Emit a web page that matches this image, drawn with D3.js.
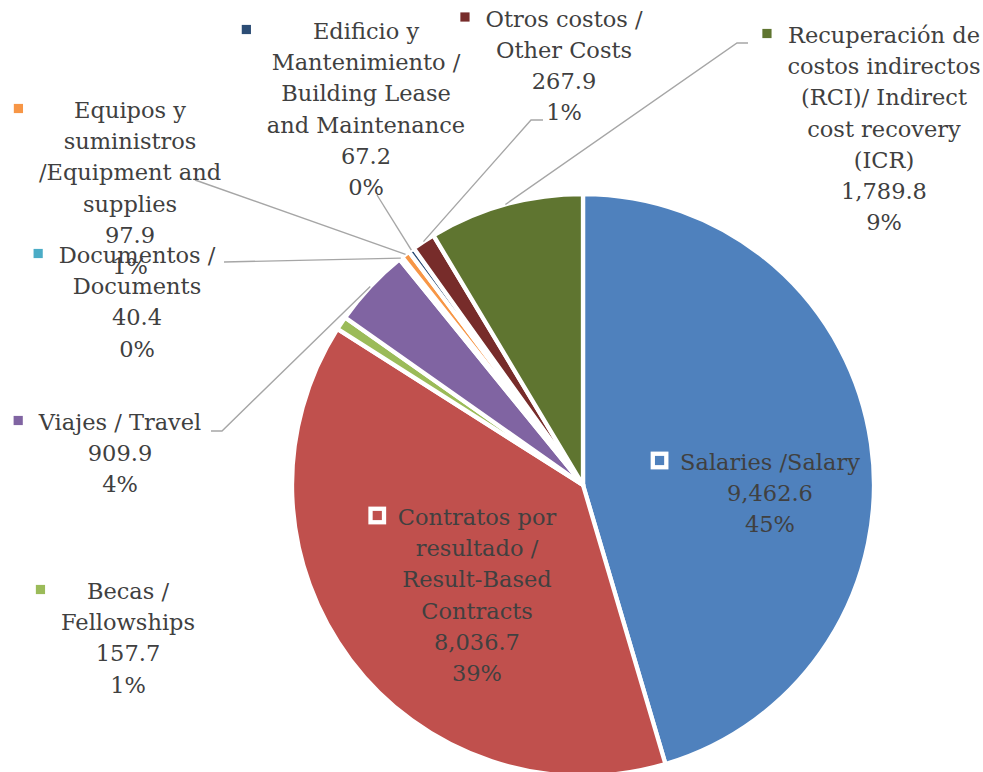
<!DOCTYPE html>
<html>
<head>
<meta charset="utf-8">
<script src="https://cdn.jsdelivr.net/npm/d3@7"></script>
<style>
body { margin: 0; background: #fff; }
text { font-family: "DejaVu Serif", serif; font-size: 22.5px; fill: #404040; }
</style>
</head>
<body>
<script>
// category labels, already wrapped the way the chart shows them
var categories = [
    ["Salaries /Salary"],
    ["Contratos por", "resultado /", "Result-Based", "Contracts"],
    ["Becas /", "Fellowships"],
    ["Viajes / Travel"],
    ["Documentos /", "Documents"],
    ["Equipos y", "suministros", "/Equipment and", "supplies"],
    ["Edificio y", "Mantenimiento /", "Building Lease", "and Maintenance"],
    ["Otros costos /", "Other Costs"],
    ["Recuperación de", "costos indirectos", "(RCI)/ Indirect", "cost recovery", "(ICR)"]
];
var values = [9462.6, 8036.7, 157.7, 909.9, 40.4, 97.9, 67.2, 267.9, 1789.8];
var colors = ["#4F81BD", "#C0504D", "#9BBB59", "#8064A2", "#4BACC6", "#F79646", "#2C4D75", "#772C2A", "#5F7530"];

var width = 983;
var height = 772;
var cx = 583, cy = 485, radius = 291;
var lineGap = 31.2;

// where each label sits: centre x of block, baseline of first line, leader start points
var labelLayout = [
    {x: 770, y: 470, leader: null},
    {x: 477, y: 525, leader: null},
    {x: 128, y: 599, leader: null},
    {x: 120, y: 430, leader: [[211, 431], [222, 431]]},
    {x: 137, y: 263, leader: [[224, 262]]},
    {x: 130, y: 118, leader: [[195, 180]]},
    {x: 366, y: 39, leader: [[377, 195]]},
    {x: 564, y: 26.5, leader: [[543, 120], [531, 120]]},
    {x: 884, y: 43, leader: [[748, 43], [737, 43]]}
];

// Excel style: whole percents that add to 100 (largest remainder)
function roundPercents(vals) {
    var total = d3.sum(vals);
    var raw = vals.map(function (v) { return v / total * 100; });
    var fl = raw.map(Math.floor);
    var left = 100 - d3.sum(fl);
    var order = d3.range(vals.length).sort(function (a, b) {
        return (raw[b] - fl[b]) - (raw[a] - fl[a]);
    });
    order.slice(0, left).forEach(function (i) { fl[i]++; });
    return fl;
}
var percents = roundPercents(values);
var fmt = d3.format(",.1f");

var svg = d3.select("body").append("svg")
    .attr("width", width)
    .attr("height", height);

var pie = d3.pie().sort(null).value(function (d) { return d; });
var arcs = pie(values);

var arc = d3.arc().innerRadius(0).outerRadius(radius);
var rim = d3.arc().innerRadius(radius).outerRadius(radius);

var pieGroup = svg.append("g")
    .attr("transform", `translate(${cx} ${cy})`);

pieGroup.selectAll("path")
    .data(arcs)
    .enter().append("path")
    .attr("d", arc)
    .attr("fill", function (d, i) { return colors[i]; })
    .attr("stroke", "#fff")
    .attr("stroke-width", 4.3)
    .attr("stroke-linejoin", "round");

// leader lines: from label to the rim at the slice's middle angle
var line = d3.line();
arcs.forEach(function (d, i) {
    var lay = labelLayout[i];
    if (!lay.leader) return;
    var end = rim.centroid(d);
    var pts = lay.leader.concat([[end[0] + cx, end[1] + cy]]);
    svg.append("path")
        .attr("d", line(pts))
        .attr("fill", "none")
        .attr("stroke", "#a6a6a6")
        .attr("stroke-width", 1.4);
});

// labels
arcs.forEach(function (d, i) {
    var lay = labelLayout[i];
    var lines = categories[i].concat([fmt(values[i]), percents[i] + "%"]);
    var g = svg.append("g").attr("class", "label" + i);
    var maxW = 0;
    lines.forEach(function (s, k) {
        var t = g.append("text")
            .attr("x", lay.x)
            .attr("y", lay.y + k * lineGap)
            .attr("text-anchor", "middle")
            .text(s);
        if (k < categories[i].length) {
            maxW = Math.max(maxW, t.node().getComputedTextLength());
        }
    });
    var kx = lay.x - maxW / 2 - 20.5;
    var ky = lay.y - 9.5;
    g.insert("rect", "text")
        .attr("x", kx - 6.75)
        .attr("y", ky - 6.75)
        .attr("width", 13.5)
        .attr("height", 13.5)
        .attr("fill", colors[i])
        .attr("stroke", "#fff")
        .attr("stroke-width", 4.3);
});
</script>
</body>
</html>
